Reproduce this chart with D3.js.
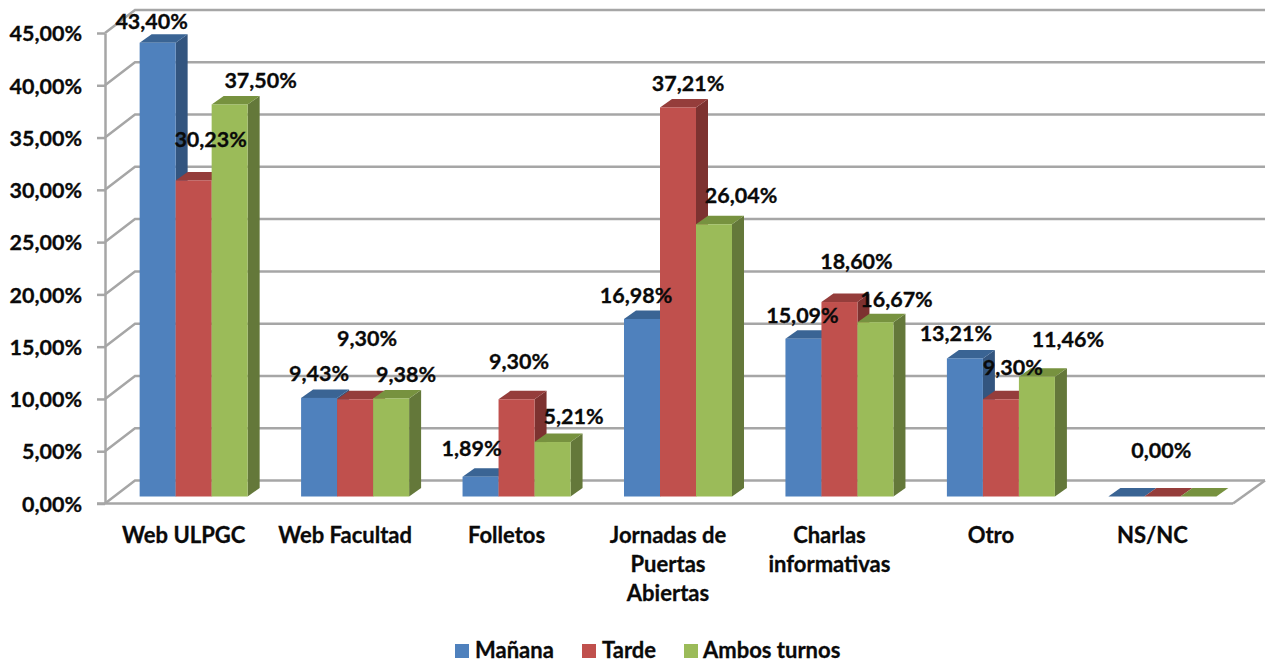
<!DOCTYPE html>
<html>
<head>
<meta charset="utf-8">
<title>Web ULPGC</title>
<script src="https://cdn.jsdelivr.net/npm/d3@7"></script>
<style>
  body { margin: 0; background: #fff; }
  text { font-family: Lato, "Open Sans", sans-serif; font-weight: 700; fill: #0a0a0a; stroke: #0a0a0a; stroke-width: 0.3px; }
</style>
</head>
<body>
<svg id="chart" width="1266" height="663"></svg>
<script>
var categories = ["Web ULPGC", "Web Facultad", "Folletos", "Jornadas de Puertas Abiertas", "Charlas informativas", "Otro", "NS/NC"];
var categoryLines = [["Web ULPGC"], ["Web Facultad"], ["Folletos"], ["Jornadas de", "Puertas", "Abiertas"], ["Charlas", "informativas"], ["Otro"], ["NS/NC"]];
var seriesNames = ["Mañana", "Tarde", "Ambos turnos"];
var manana = [43.40, 9.43, 1.89, 16.98, 15.09, 13.21, 0];
var tarde = [30.23, 9.30, 9.30, 37.21, 18.60, 9.30, 0];
var ambos = [37.50, 9.38, 5.21, 26.04, 16.67, 11.46, 0];
var yTicks = [0, 5, 10, 15, 20, 25, 30, 35, 40, 45];

var seriesValues = [manana, tarde, ambos];
var colors = [
    { front: "#4f81bd", top: "#3a6494", side: "#33557f" },
    { front: "#c0504d", top: "#953d3b", side: "#7d3230" },
    { front: "#9bbb59", top: "#77923f", side: "#64783a" }
];

// hand placed data labels, [dx, dy] from the top centre of the bar, the chart had them moved around
var labelNudge = [
    [[-6, -28], [17, -48], [31, -31]],
    [[0, -32], [12, -68], [15, -31]],
    [[-9, -35], [2.5, -45], [21, -33]],
    [[-6, -31], [10, -31], [27, -36]],
    [[-1, -30], [17, -48], [21, -30]],
    [[-9, -32], [12, -39], [31, -44]],
    [null, [-1, -53], null]
];

var gridColor = "#a6a6a6";
var labelSize = "21.5px", textSize = "22px";
var depthX = 30, depthY = 23;    // wall behind the front plane
var barDepthX = 12, barDepthY = 8.5, barLift = 7;

var y = d3.scaleLinear().domain([0, 45]).range([503.5, 33]);
var x0 = d3.scaleBand().domain(categories).range([113, 1243]).paddingInner(0.331).paddingOuter(0.165).align(0.5);
var x1 = d3.scaleBand().domain(seriesNames).range([0, x0.bandwidth()]);
var axisX = 105, wallRight = 1265, floorRight = 1233;

var svg = d3.select("#chart");
var comma = d3.format(".2f");
var pct = v => comma(v).replace(".", ",") + "%";

// gridlines on the wall, each one kinks at the left side wall
svg.append("g").selectAll("path")
    .data(yTicks)
    .enter()
    .append("path")
    .attr("d", d => "M" + axisX + "," + y(d) + "L" + (axisX + depthX) + "," + (y(d) - depthY) + "H" + wallRight)
    .attr("fill", "none")
    .attr("stroke", gridColor)
    .attr("stroke-width", 2.5);

// floor edges
svg.append("path")
    .attr("d", "M" + floorRight + "," + y(0) + "L" + wallRight + "," + (y(0) - depthY))
    .attr("fill", "none")
    .attr("stroke", gridColor)
    .attr("stroke-width", 2.5);

// axes
const yAxis = d3.axisLeft(y).tickValues(yTicks).tickSize(8).tickSizeOuter(0).tickPadding(15).tickFormat(pct);
const yG = svg.append("g").attr("transform", "translate(" + axisX + ",0)").call(yAxis);
yG.selectAll("line").attr("stroke", gridColor).attr("stroke-width", 2.5);
yG.select(".domain").attr("stroke", gridColor).attr("stroke-width", 2.5);
yG.selectAll("text").style("font-size", labelSize).attr("dy", "0.36em");

const xAxis = d3.axisBottom(x0).tickSize(0).tickPadding(0).tickFormat("");
const xG = svg.append("g").attr("transform", "translate(0," + y(0) + ")").call(xAxis);
xG.select(".domain").attr("d", "M" + (axisX - 8) + ",0H" + floorRight).attr("stroke", gridColor).attr("stroke-width", 2.5);
xG.selectAll(".tick").attr("transform", d => "translate(" + (x0(d) + x0.bandwidth() / 2 - 10) + ",0)");
xG.selectAll(".tick text").remove();
xG.selectAll(".tick").append("text")
    .attr("text-anchor", "middle")
    .style("font-size", textSize)
    .selectAll("tspan")
    .data(d => categoryLines[categories.indexOf(d)])
    .enter()
    .append("tspan")
    .attr("x", 0)
    .attr("y", (d, i) => 39 + i * 29)
    .text(d => d);

// bars, left to right so the next bar hides the side of the previous one
categories.forEach((cat, c) => {
    seriesNames.forEach((name, s) => {
        let v = seriesValues[s][c];
        let left = x0(cat) + x1(name);
        let w = x1.bandwidth();
        let top = y(v) - barLift;
        let base = y(0) - barLift;
        let g = svg.append("g");

        if (v > 0) {
            g.append("path")
                .attr("d", "M" + (left + w) + "," + top + "l" + barDepthX + "," + (-barDepthY) + "V" + (base - barDepthY) + "l" + (-barDepthX) + "," + barDepthY + "Z")
                .attr("fill", colors[s].side);
        }
        g.append("path")
            .attr("d", "M" + left + "," + top + "l" + barDepthX + "," + (-barDepthY) + "h" + w + "l" + (-barDepthX) + "," + barDepthY + "Z")
            .attr("fill", colors[s].top);
        if (v > 0) {
            g.append("rect")
                .attr("x", left)
                .attr("y", top)
                .attr("width", w)
                .attr("height", base - top)
                .attr("fill", colors[s].front);
        }
    });
});

// data labels go on top of every bar
categories.forEach((cat, c) => {
    seriesNames.forEach((name, s) => {
        let nudge = labelNudge[c][s];
        if (!nudge) return;
        let v = seriesValues[s][c];
        svg.append("text")
            .attr("x", x0(cat) + x1(name) + x1.bandwidth() / 2 + nudge[0])
            .attr("y", y(v) + nudge[1])
            .attr("dy", "0.36em")
            .attr("text-anchor", "middle")
            .style("font-size", labelSize)
            .text(pct(v));
    });
});

// legend
var legendX = d3.scaleOrdinal().domain(seriesNames).range([455, 582, 684]);
var legend = svg.append("g").selectAll("g")
    .data(seriesNames)
    .enter()
    .append("g")
    .attr("transform", d => "translate(" + legendX(d) + ",644)");
legend.append("rect")
    .attr("width", 14)
    .attr("height", 14)
    .attr("fill", (d, i) => colors[i].front);
legend.append("text")
    .attr("x", d => d == "Ambos turnos" ? 19 : 20)
    .attr("y", 14)
    .style("font-size", textSize)
    .text(d => d);
</script>
</body>
</html>
